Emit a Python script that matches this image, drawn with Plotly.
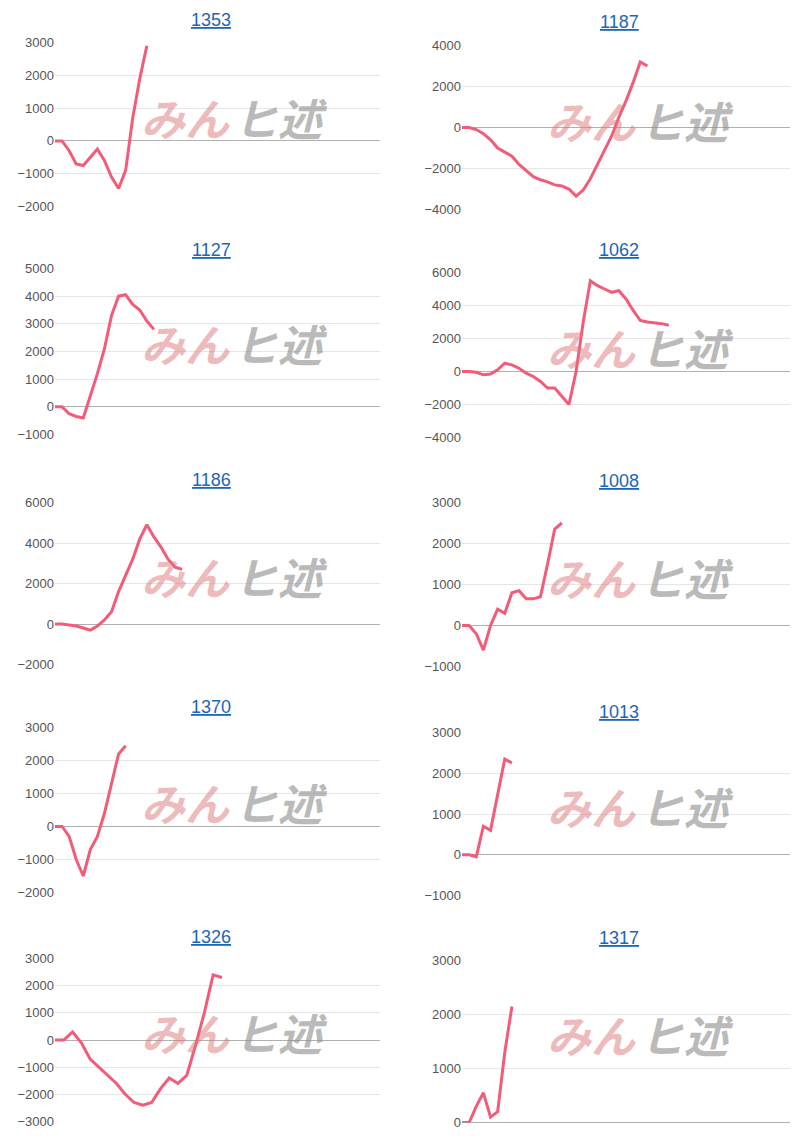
import plotly.graph_objects as go

titles = ["1353","1187","1127","1062","1186","1008","1370","1013","1326","1317"]
series = [
 [0,0,-300,-700,-750,-500,-250,-600,-1100,-1450,-900,700,1900,2900],
 [0,0,-100,-300,-600,-1000,-1200,-1400,-1800,-2100,-2400,-2550,-2650,-2800,-2850,-3000,-3350,-3050,-2500,-1800,-1100,-400,500,1300,2200,3200,3000],
 [0,0,-250,-350,-400,400,1200,2100,3300,4000,4050,3700,3500,3100,2800],
 [0,0,-50,-200,-150,100,500,400,200,-100,-300,-600,-1000,-1000,-1500,-2000,0,3000,5500,5200,5000,4800,4900,4400,3700,3100,3000,2950,2900,2800],
 [0,0,-50,-100,-200,-300,-100,200,600,1600,2400,3200,4200,4900,4300,3800,3200,2800,2700],
 [0,0,-200,-600,0,400,300,800,850,650,650,700,1500,2350,2500],
 [0,0,-300,-1000,-1500,-700,-300,400,1300,2200,2450],
 [0,0,-50,700,600,1500,2350,2250],
 [0,0,300,-100,-700,-1000,-1300,-1600,-2000,-2300,-2400,-2300,-1800,-1400,-1600,-1300,-200,1000,2400,2300],
 [0,0,300,550,100,200,1300,2150],
]
x_max = [46, 46, 46, 46, 46, 46, 46, 46, 37, 46]
ranges = [(-2000,3000,1000),(-4000,4000,2000),(-1000,5000,1000),(-4000,6000,2000),(-2000,6000,2000),
          (-1000,3000,1000),(-2000,3000,1000),(-1000,3000,1000),(-3000,3000,1000),(0,3000,1000)]
pix = [(42,206),(45,209),(268,434),(272,437),(502,664),(502,666),(727,892),(732,895),(958,1121),(960,1122)]
title_y = [19,22,249,250,479,481,706,711,936,937]

H, W = 1145, 810
def px(x): return (x - 8) / W
def py(y): return 1 - (y - 14.5) / (H - 15)

fig = go.Figure()
for i in range(10):
    col = i % 2
    n = "" if i == 0 else str(i+1)
    xd = [px(55), px(380)] if col == 0 else [px(462), px(790)]
    yd = [py(pix[i][1]), py(pix[i][0])]
    fig.add_trace(go.Scatter(x=list(range(len(series[i]))), y=series[i], mode="lines",
                             line=dict(color="#f25c78", width=3), xaxis="x"+n, yaxis="y"+n,
                             showlegend=False))
    lo, hi, dt = ranges[i]
    fig.layout["xaxis"+n] = dict(domain=xd, range=[0, x_max[i]], showticklabels=False, showgrid=False,
                                  zeroline=False, anchor="y"+n)
    fig.layout["yaxis"+n] = dict(domain=yd, range=[lo, hi], dtick=dt, tick0=0, gridcolor="#e6e6e6",
                                  zeroline=True, zerolinecolor="#b0b0b0", zerolinewidth=1,
                                  tickfont=dict(family="Arial", size=13, color="#555"),
                                  anchor="x"+n, showline=False)
    cx = px(211) if col == 0 else px(619)
    fig.add_annotation(text="<u>%s</u>" % titles[i], x=cx, y=py(title_y[i]), xref="paper", yref="paper",
                       xanchor="center", yanchor="middle", showarrow=False,
                       font=dict(family="Arial", size=18, color="#1a66b8"))
    wy = py((pix[i][0]+pix[i][1])/2 - 8)
    wx = px(232) if col == 0 else px(638)
    fig.add_annotation(text="<b><i>みん</i></b>", x=wx, y=wy, xref="paper", yref="paper", xanchor="right",
                       yanchor="middle", showarrow=False,
                       font=dict(family="Noto Sans CJK JP", size=44, color="rgba(220,120,120,0.5)"))
    fig.add_annotation(text="<b><i>ヒ述</i></b>", x=wx, y=wy, xref="paper", yref="paper", xanchor="left",
                       yanchor="middle", showarrow=False,
                       font=dict(family="Noto Sans CJK JP", size=44, color="rgba(140,140,140,0.6)"))

fig.update_layout(width=W, height=H, margin=dict(l=0, r=0, t=0, b=0),
                  plot_bgcolor="white", paper_bgcolor="white")
fig.write_html("out.html")
